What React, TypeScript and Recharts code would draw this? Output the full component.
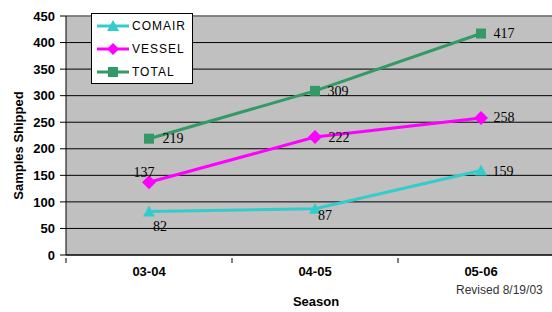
import {
  LineChart,
  Line,
  XAxis,
  YAxis,
  CartesianGrid,
  Legend,
  LabelList,
  ReferenceLine,
  Label,
} from "recharts";

const seasons = ["03-04", "04-05", "05-06"];
const comair = [82, 87, 159];
const vessel = [137, 222, 258];
const total = [219, 309, 417];
const yTicks = [0, 50, 100, 150, 200, 250, 300, 350, 400, 450];

const chartData = seasons.map((s, i) => ({
  season: s,
  comair: comair[i],
  vessel: vessel[i],
  total: total[i],
}));

const COLORS = { comair: "#33CCCC", vessel: "#FF00FF", total: "#339966" };

// label offsets per point (dx, dy) from the marker
const labelOffsets: Record<string, [number, number][]> = {
  comair: [[11, 15], [10, 7], [22, 1]],
  vessel: [[-5, -10], [24, 0], [23, 0]],
  total: [[24, 0], [23, 1], [23, 0]],
};

const makeLabel = (key: string) => (props: any) => {
  const { x, y, value, index } = props;
  const [dx, dy] = labelOffsets[key][index] || [20, 0];
  return (
    <text
      x={x + dx}
      y={y + dy}
      textAnchor="middle"
      dominantBaseline="central"
      fontFamily="'Liberation Serif', serif"
      fontSize={14}
      fill="#000"
    >
      {value}
    </text>
  );
};

const Triangle = (p: any) => {
  const { cx, cy, fill } = p;
  if (cx == null) return null;
  return <polygon points={`${cx},${cy - 6} ${cx - 6},${cy + 5} ${cx + 6},${cy + 5}`} fill={fill} />;
};
const Diamond = (p: any) => {
  const { cx, cy, fill } = p;
  if (cx == null) return null;
  return <polygon points={`${cx},${cy - 7} ${cx + 7},${cy} ${cx},${cy + 7} ${cx - 7},${cy}`} fill={fill} />;
};
const Square = (p: any) => {
  const { cx, cy, fill } = p;
  if (cx == null) return null;
  return <rect x={cx - 5} y={cy - 5} width={10} height={10} fill={fill} />;
};

const legendItems = [
  { name: "COMAIR", color: COLORS.comair, shape: "tri" },
  { name: "VESSEL", color: COLORS.vessel, shape: "dia" },
  { name: "TOTAL", color: COLORS.total, shape: "sq" },
];

const renderLegend = () => (
  <div style={legendBox}>
    {legendItems.map((it) => (
      <div key={it.name} style={{ display: "flex", alignItems: "center", height: 24.5 }}>
        <svg width={32} height={14} style={{ marginRight: 3 }}>
          <line x1={0} y1={7} x2={32} y2={7} stroke={it.color} strokeWidth={3} />
          {it.shape === "tri" && <polygon points="16,1 10,12 22,12" fill={it.color} />}
          {it.shape === "dia" && <polygon points="16,1 22,7 16,13 10,7" fill={it.color} />}
          {it.shape === "sq" && <rect x={11} y={2} width={10} height={10} fill={it.color} />}
        </svg>
        <span style={legendText}>{it.name}</span>
      </div>
    ))}
  </div>
);

const SeasonTick = (props: any) => {
  const { x, y, payload } = props;
  const half = payload && payload.offset ? payload.offset : 83;
  return (
    <g>
      <line x1={x - half} y1={y - 5} x2={x - half} y2={y} stroke="#000" />
      <text
        x={x}
        y={y + 13}
        textAnchor="middle"
        fontFamily="'Liberation Sans', Arial, sans-serif"
        fontWeight="bold"
        fontSize={13}
        fill="#000"
      >
        {payload.value}
      </text>
    </g>
  );
};

const App = () => {
  return (
    <div style={wrapStyle}>
      <LineChart
        width={580}
        height={312}
        data={chartData}
        margin={{ top: 16, right: 16, left: 0, bottom: 0 }}
      >
        <CartesianGrid vertical={false} stroke="#000" fill="#C0C0C0" />
        <ReferenceLine y={450} stroke="#8a8a8a" strokeWidth={1.5} />
        <XAxis
          dataKey="season"
          scale="band"
          height={57}
          stroke="#000"
          tickLine={false}
          tick={<SeasonTick />}
          interval={0}
        >
          <Label
            value="Season"
            position="insideBottom"
            offset={6}
            dx={1}
            style={{ fontFamily: "'Liberation Sans', Arial, sans-serif", fontWeight: "bold", fontSize: 13, fill: "#000" }}
          />
        </XAxis>
        <YAxis
          width={66}
          domain={[0, 450]}
          ticks={yTicks}
          interval={0}
          stroke="#000"
          tickSize={6}
          tickMargin={5}
          tick={{ fontFamily: "'Liberation Sans', Arial, sans-serif", fontWeight: "bold", fontSize: 13, fill: "#000" }}
        >
          <Label
            value="Samples Shipped"
            angle={-90}
            position="insideLeft"
            offset={18}
            dy={10}
            style={{ textAnchor: "middle", fontFamily: "'Liberation Sans', Arial, sans-serif", fontWeight: "bold", fontSize: 13, fill: "#000" }}
          />
        </YAxis>
        <Legend
          layout="vertical"
          align="center"
          verticalAlign="middle"
          content={renderLegend}
          wrapperStyle={{ left: 91, top: 13, width: 102, height: 71 }}
        />
        <Line
          dataKey="comair"
          name="COMAIR"
          stroke={COLORS.comair}
          strokeWidth={3}
          dot={<Triangle fill={COLORS.comair} />}
          activeDot={false}
          isAnimationActive={false}
        >
          <LabelList dataKey="comair" content={makeLabel("comair")} />
        </Line>
        <Line
          dataKey="vessel"
          name="VESSEL"
          stroke={COLORS.vessel}
          strokeWidth={3}
          dot={<Diamond fill={COLORS.vessel} />}
          activeDot={false}
          isAnimationActive={false}
        >
          <LabelList dataKey="vessel" content={makeLabel("vessel")} />
        </Line>
        <Line
          dataKey="total"
          name="TOTAL"
          stroke={COLORS.total}
          strokeWidth={3}
          dot={<Square fill={COLORS.total} />}
          activeDot={false}
          isAnimationActive={false}
        >
          <LabelList dataKey="total" content={makeLabel("total")} />
        </Line>
      </LineChart>
      <div style={revisedStyle}>Revised 8/19/03</div>
    </div>
  );
};
export default App;

const wrapStyle: React.CSSProperties = {
  position: "absolute",
  left: 0,
  top: 0,
  width: 552,
  height: 312,
  overflow: "hidden",
  background: "#fff",
};

const legendBox: React.CSSProperties = {
  boxSizing: "border-box",
  width: 102,
  height: 71,
  background: "#fff",
  border: "1px solid #000",
  padding: "0 0 0 5px",
  display: "flex",
  flexDirection: "column",
  justifyContent: "center",
};

const legendText: React.CSSProperties = {
  fontFamily: "'Liberation Sans', Arial, sans-serif",
  fontSize: 12,
  letterSpacing: 1,
  color: "#000",
  lineHeight: "14px",
};

const revisedStyle: React.CSSProperties = {
  position: "absolute",
  left: 456,
  top: 283,
  fontFamily: "'Liberation Sans', Arial, sans-serif",
  fontSize: 12,
  color: "#333",
  whiteSpace: "nowrap",
};
